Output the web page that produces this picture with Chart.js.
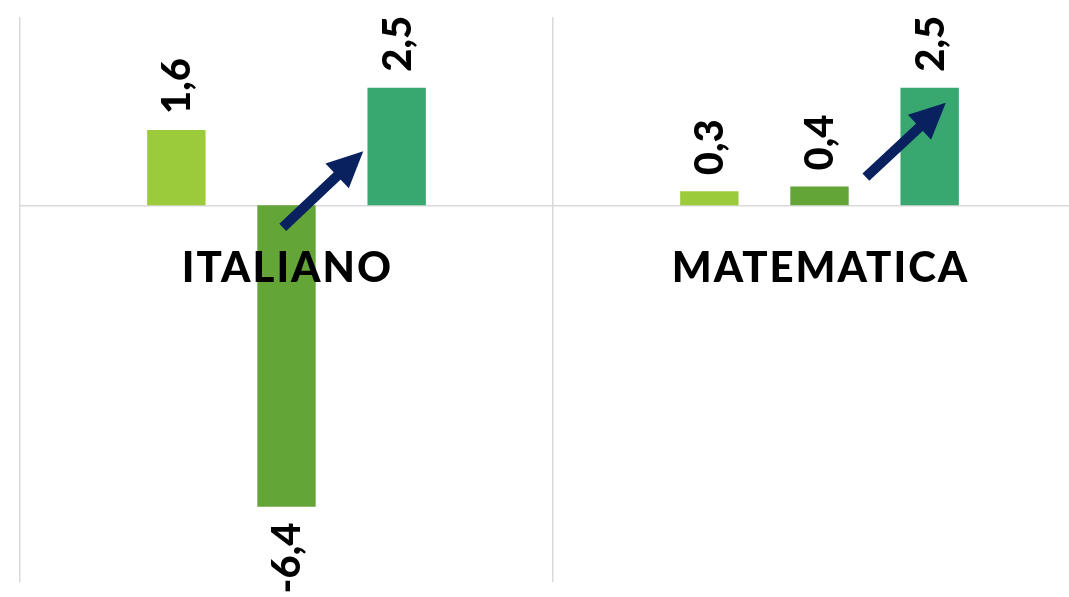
<!DOCTYPE html>
<html>
<head>
<meta charset="utf-8">
<script src="https://cdn.jsdelivr.net/npm/chart.js@4"></script>
<style>
    html, body { margin: 0; padding: 0; background: #fff; overflow: hidden; }
    #wrap { width: 1086px; height: 597px; }
</style>
</head>
<body>
<div id="wrap"><canvas id="chart"></canvas></div>
<script>
// Variazioni per materia

const CATEGORIES = ['ITALIANO', 'MATEMATICA'];
const SERIES_1 = [1.6, 0.3];
const SERIES_2 = [-6.4, 0.4];
const SERIES_3 = [2.5, 2.5];
const SERIES_COLORS = ['#9BCB3B', '#63A537', '#38A870'];

// arrows: [category index offset, value] start -> end
const ARROWS = [
    { from: [-0.007, -0.47], to: [0.144, 1.15] },
    { from: [1.087, 0.6], to: [1.237, 2.18] }
];

function fmt(v) {
    return v.toFixed(1).replace('.', ',');
}

const labelPlugin = {
    id: 'labels',
    afterDatasetsDraw(chart) {
        const ctx = chart.ctx;
        const xs = chart.scales.x;
        const ys = chart.scales.y;
        const zero = ys.getPixelForValue(0);
        const step = xs.getPixelForValue(1) - xs.getPixelForValue(0);

        // value labels, rotated
        ctx.save();
        ctx.fillStyle = '#000';
        ctx.font = '900 40px Lato';
        chart.data.datasets.forEach((ds, di) => {
            chart.getDatasetMeta(di).data.forEach((bar, i) => {
                const v = ds.data[i];
                ctx.save();
                ctx.translate(bar.x, bar.y + (v >= 0 ? -16 : 16));
                ctx.rotate(-Math.PI / 2);
                ctx.textBaseline = 'middle';
                ctx.textAlign = v >= 0 ? 'left' : 'right';
                ctx.fillText(fmt(v), 0, 1);
                ctx.restore();
            });
        });
        ctx.restore();

        // arrows
        ctx.save();
        ctx.fillStyle = '#0A215F';
        ctx.strokeStyle = '#0A215F';
        ARROWS.forEach(a => {
            const x1 = xs.getPixelForValue(0) + a.from[0] * step;
            const y1 = ys.getPixelForValue(a.from[1]);
            const x2 = xs.getPixelForValue(0) + a.to[0] * step;
            const y2 = ys.getPixelForValue(a.to[1]);
            const ang = Math.atan2(y2 - y1, x2 - x1);
            const headLen = 36, headHalf = 17;
            const bx = x2 - headLen * Math.cos(ang);
            const by = y2 - headLen * Math.sin(ang);
            ctx.lineWidth = 10;
            ctx.beginPath();
            ctx.moveTo(x1, y1);
            ctx.lineTo(bx + 2 * Math.cos(ang), by + 2 * Math.sin(ang));
            ctx.stroke();
            ctx.beginPath();
            ctx.moveTo(x2, y2);
            ctx.lineTo(bx - headHalf * Math.sin(ang), by + headHalf * Math.cos(ang));
            ctx.lineTo(bx + headHalf * Math.sin(ang), by - headHalf * Math.cos(ang));
            ctx.closePath();
            ctx.fill();
        });
        ctx.restore();

        // category labels near the zero line
        ctx.save();
        ctx.fillStyle = '#000';
        ctx.font = '900 42px Lato';
        ctx.letterSpacing = '2px';
        ctx.textAlign = 'center';
        ctx.textBaseline = 'middle';
        CATEGORIES.forEach((c, i) => {
            ctx.fillText(c, xs.getPixelForValue(i) + 1, zero + 63);
        });
        ctx.restore();
    }
};

new Chart(document.getElementById('chart'), {
    type: 'bar',
    data: {
        labels: CATEGORIES,
        datasets: [SERIES_1, SERIES_2, SERIES_3].map((d, i) => ({
            label: 'Serie ' + (i + 1),
            data: d,
            backgroundColor: SERIES_COLORS[i],
            categoryPercentage: 0.62,
            barPercentage: 0.53
        }))
    },
    options: {
        responsive: true,
        maintainAspectRatio: false,
        animation: false,
        layout: {
            padding: { left: 20, top: 17, right: 0, bottom: 15 }
        },
        plugins: {
            legend: { display: false },
            tooltip: { enabled: false }
        },
        scales: {
            x: {
                position: { y: 0 },
                grid: {
                    color: '#D9D9D9',
                    lineWidth: 1.5,
                    drawTicks: false
                },
                border: { color: '#D9D9D9', width: 1.5 },
                ticks: { display: false }
            },
            y: {
                display: false,
                min: -8,
                max: 4
            }
        }
    },
    plugins: [labelPlugin]
});
</script>
</body>
</html>
